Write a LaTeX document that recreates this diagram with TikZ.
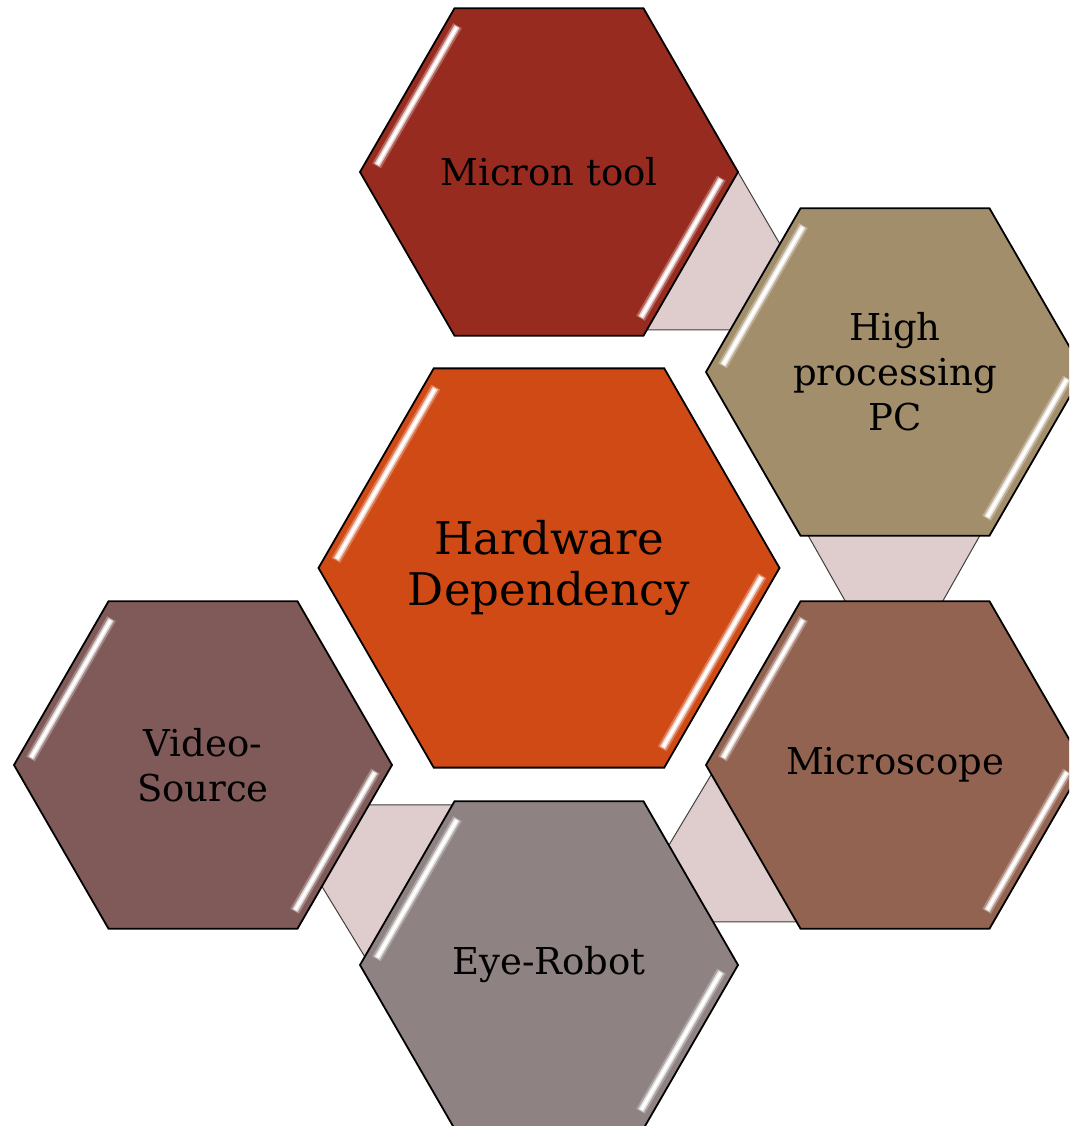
\documentclass[tikz,border=0pt]{standalone}
\usepackage{fontspec}
\setmainfont{DejaVu Serif}
\usetikzlibrary{shapes.geometric,calc}
\definecolor{cMicron}{RGB}{152,43,32}
\definecolor{cHigh}{RGB}{163,142,108}
\definecolor{cHard}{RGB}{208,74,22}
\definecolor{cVideo}{RGB}{127,90,88}
\definecolor{cMicro}{RGB}{147,99,82}
\definecolor{cEye}{RGB}{142,130,130}
\definecolor{cLink}{RGB}{223,205,206}
\tikzset{
  hexnode/.style={regular polygon, regular polygon sides=6, draw=black, line width=1.8pt,
    inner sep=0pt, outer sep=0pt, align=center, text=black},
  smallhex/.style={hexnode, minimum size=378pt, font=\fontsize{37}{45}\selectfont},
  bighex/.style={hexnode, minimum size=461pt, font=\fontsize{45}{51}\selectfont},
  linkband/.style={fill=cLink, draw=black!75, line width=1pt},
}
\newcommand{\hexstripes}[3]{%
  \begin{scope}[shift={(#1)}]
    \foreach \a/\b in {180/120, 0/300}{
      \draw[#3!55!white, line width=10pt, opacity=0.6]
        ($(\a:#2-13)!0.04!(\b:#2-13)$) -- ($(\a:#2-13)!0.96!(\b:#2-13)$);
      \draw[#3!25!white, line width=6pt]
        ($(\a:#2-13)!0.045!(\b:#2-13)$) -- ($(\a:#2-13)!0.955!(\b:#2-13)$);
      \draw[white, line width=3pt]
        ($(\a:#2-13)!0.05!(\b:#2-13)$) -- ($(\a:#2-13)!0.95!(\b:#2-13)$);
    }
  \end{scope}}
\begin{document}
\begin{tikzpicture}[x=1pt,y=1pt]
\useasboundingbox (0,0) rectangle (1069,1126);
\clip (0,0) rectangle (1069,1126);
% connector bands (behind hexagons)
\draw[linkband] (738,954) -- (795,856) -- (795,796) -- (645,796) -- cycle;
\draw[linkband] (805,596) -- (983,596) -- (940,520) -- (848,520) -- cycle;
\draw[linkband] (717,361) -- (654,256) -- (700,204) -- (805,204) -- cycle;
\draw[linkband] (360,321) -- (458,321) -- (368,164) -- (318,246) -- cycle;
% hexagons
\node[smallhex, fill=cMicron] (micron) at (549,954) {Micron tool};
\hexstripes{micron.center}{189}{cMicron}
\node[smallhex, fill=cHigh] (high) at (895,754) {High\\processing\\PC};
\hexstripes{high.center}{189}{cHigh}
\node[bighex, fill=cHard] (hard) at (549,558) {Hardware\\Dependency};
\hexstripes{hard.center}{230.5}{cHard}
\node[smallhex, fill=cVideo] (video) at (203,361) {Video-\\Source};
\hexstripes{video.center}{189}{cVideo}
\node[smallhex, fill=cMicro] (micro) at (895,361) {Microscope};
\hexstripes{micro.center}{189}{cMicro}
\node[smallhex, fill=cEye] (eye) at (549,161) {Eye-Robot};
\hexstripes{eye.center}{189}{cEye}
\end{tikzpicture}
\end{document}
